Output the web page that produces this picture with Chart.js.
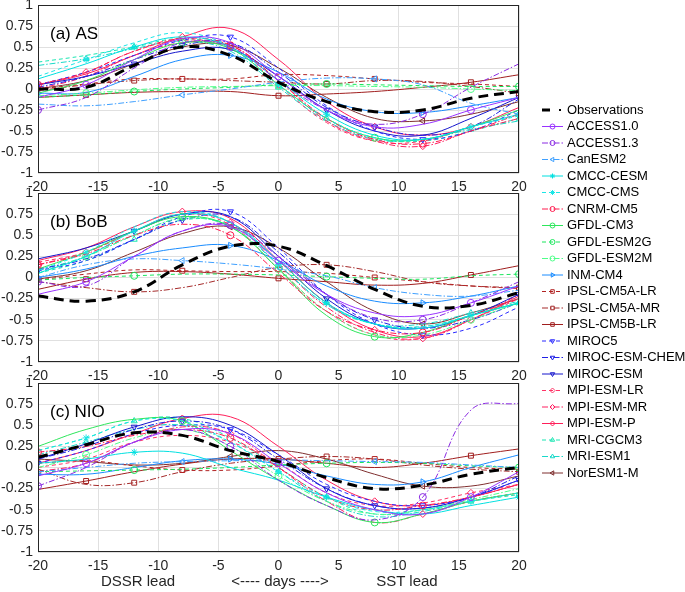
<!DOCTYPE html>
<html>
<head>
<meta charset="utf-8">
<script src="https://cdn.jsdelivr.net/npm/chart.js@4.4.1/dist/chart.umd.min.js"></script>
<style>
  body { margin:0; background:#fff; width:685px; height:592px; position:relative; overflow:hidden;
         font-family:"Liberation Sans", Arial, sans-serif; }
  canvas { position:absolute; }
  .lab { position:absolute; top:572px; font-size:15px; color:#262626; transform:translateX(-50%); white-space:nowrap; }
</style>
</head>
<body>
<canvas id="pa" style="left:0;top:0" width="530" height="195"></canvas>
<canvas id="pb" style="left:0;top:188px" width="530" height="196"></canvas>
<canvas id="pc" style="left:0;top:378px" width="530" height="196"></canvas>
<canvas id="lg" style="left:530px;top:0" width="155" height="592"></canvas>
<div class="lab" style="left:138px">DSSR lead</div>
<div class="lab" style="left:280px">&lt;---- days ----&gt;</div>
<div class="lab" style="left:407px">SST lead</div>
<script>
const lags = [-20, -16, -12, -8, -4, 0, 4, 8, 12, 16, 20];
const xTicks = [-20, -15, -10, -5, 0, 5, 10, 15, 20];

const models = ['ACCESS1.0','ACCESS1.3','CanESM2','CMCC-CESM','CMCC-CMS','CNRM-CM5','GFDL-CM3',
  'GFDL-ESM2G','GFDL-ESM2M','INM-CM4','IPSL-CM5A-LR','IPSL-CM5A-MR','IPSL-CM5B-LR','MIROC5',
  'MIROC-ESM-CHEM','MIROC-ESM','MPI-ESM-LR','MPI-ESM-MR','MPI-ESM-P','MRI-CGCM3','MRI-ESM1','NorESM1-M'];

// (a) AS
const asObs = [0.0, 0.02, 0.28, 0.5, 0.4, 0.08, -0.15, -0.27, -0.25, -0.11, -0.03];
const asModels = [
  [-0.1, 0.05, 0.35, 0.6, 0.55, 0.15, -0.25, -0.45, -0.42, -0.25, -0.1],
  [-0.25, -0.1, 0.25, 0.55, 0.5, 0.1, -0.25, -0.42, -0.3, 0.02, 0.3],
  [-0.18, -0.2, -0.15, -0.07, 0.0, 0.08, 0.13, 0.12, 0.05, -0.17, -0.3],
  [0.12, 0.3, 0.5, 0.62, 0.5, 0.1, -0.3, -0.55, -0.6, -0.45, -0.3],
  [0.15, 0.35, 0.55, 0.67, 0.5, 0.05, -0.35, -0.58, -0.6, -0.45, -0.32],
  [0.05, 0.2, 0.45, 0.6, 0.52, 0.1, -0.35, -0.6, -0.65, -0.5, -0.3],
  [-0.05, 0.1, 0.35, 0.55, 0.48, 0.05, -0.35, -0.58, -0.6, -0.45, -0.25],
  [-0.1, -0.07, -0.03, 0.0, 0.02, 0.05, 0.06, 0.05, 0.04, 0.03, 0.03],
  [-0.08, -0.05, -0.01, 0.02, 0.03, 0.04, 0.04, 0.03, 0.02, 0.0, -0.02],
  [-0.05, -0.04, 0.15, 0.35, 0.4, 0.2, -0.12, -0.27, -0.28, -0.2, -0.1],
  [0.0, 0.06, 0.12, 0.12, 0.12, 0.17, 0.16, 0.12, 0.08, 0.06, 0.03],
  [-0.02, 0.05, 0.1, 0.12, 0.1, 0.08, 0.06, 0.1, 0.09, 0.03, -0.05],
  [-0.1, -0.07, -0.04, -0.03, -0.03, -0.08, -0.06, -0.03, 0.02, 0.08, 0.17],
  [0.05, 0.2, 0.4, 0.58, 0.62, 0.25, -0.2, -0.5, -0.6, -0.5, -0.25],
  [0.02, 0.15, 0.35, 0.52, 0.55, 0.2, -0.22, -0.45, -0.55, -0.45, -0.12],
  [0.05, 0.15, 0.3, 0.45, 0.47, 0.15, -0.25, -0.5, -0.55, -0.35, -0.1],
  [0.05, 0.2, 0.45, 0.58, 0.5, 0.05, -0.4, -0.62, -0.62, -0.45, -0.3],
  [0.0, 0.15, 0.4, 0.55, 0.52, 0.1, -0.38, -0.62, -0.68, -0.5, -0.35],
  [0.05, 0.18, 0.4, 0.62, 0.72, 0.35, -0.15, -0.45, -0.55, -0.45, -0.22],
  [0.32, 0.4, 0.5, 0.6, 0.48, 0.05, -0.35, -0.58, -0.62, -0.5, -0.35],
  [0.28, 0.36, 0.48, 0.57, 0.45, 0.02, -0.38, -0.6, -0.6, -0.48, -0.38],
  [0.0, 0.1, 0.3, 0.5, 0.52, 0.25, -0.1, -0.35, -0.38, -0.3, -0.15]
];

// (b) BoB
const bobObs = [-0.22, -0.28, -0.17, 0.15, 0.37, 0.37, 0.14, -0.14, -0.34, -0.33, -0.18];
const bobModels = [
  [-0.2, -0.05, 0.25, 0.55, 0.6, 0.2, -0.2, -0.42, -0.45, -0.3, -0.1],
  [-0.05, -0.1, 0.25, 0.55, 0.62, 0.25, -0.2, -0.48, -0.5, -0.3, -0.05],
  [0.0, 0.15, 0.22, 0.2, 0.16, 0.1, 0.02, -0.12, -0.2, -0.22, -0.15],
  [0.05, 0.25, 0.55, 0.75, 0.65, 0.2, -0.3, -0.55, -0.6, -0.45, -0.3],
  [0.08, 0.3, 0.6, 0.78, 0.65, 0.15, -0.32, -0.55, -0.58, -0.45, -0.3],
  [0.15, 0.28, 0.5, 0.63, 0.5, 0.05, -0.4, -0.62, -0.65, -0.45, -0.25],
  [0.1, 0.3, 0.55, 0.72, 0.6, 0.1, -0.45, -0.7, -0.65, -0.45, -0.3],
  [-0.03, 0.0, 0.02, 0.04, 0.04, 0.03, 0.01, -0.01, -0.02, 0.02, 0.04],
  [0.05, 0.25, 0.5, 0.7, 0.6, 0.1, -0.4, -0.68, -0.68, -0.5, -0.3],
  [0.0, 0.1, 0.25, 0.35, 0.38, 0.2, -0.1, -0.28, -0.3, -0.22, -0.1],
  [-0.03, 0.04, 0.09, 0.08, 0.07, 0.07, 0.05, 0.0, -0.05, -0.1, -0.13],
  [-0.05, -0.12, -0.17, -0.12, 0.0, 0.12, 0.15, 0.07, -0.05, -0.1, -0.12],
  [-0.14, -0.02, 0.06, 0.07, 0.04, -0.01, -0.05, -0.09, -0.07, 0.03, 0.14],
  [0.08, 0.2, 0.45, 0.72, 0.78, 0.35, -0.2, -0.55, -0.68, -0.6, -0.35],
  [0.1, 0.22, 0.45, 0.68, 0.72, 0.3, -0.2, -0.5, -0.6, -0.5, -0.3],
  [0.22, 0.35, 0.55, 0.75, 0.72, 0.25, -0.25, -0.55, -0.6, -0.45, -0.2],
  [0.18, 0.3, 0.55, 0.75, 0.62, 0.1, -0.4, -0.68, -0.72, -0.5, -0.25],
  [0.15, 0.3, 0.55, 0.75, 0.65, 0.15, -0.35, -0.65, -0.72, -0.5, -0.2],
  [0.2, 0.35, 0.6, 0.78, 0.7, 0.2, -0.3, -0.62, -0.7, -0.5, -0.22],
  [0.05, 0.2, 0.45, 0.68, 0.62, 0.2, -0.3, -0.55, -0.58, -0.45, -0.3],
  [0.08, 0.25, 0.5, 0.7, 0.6, 0.15, -0.32, -0.55, -0.55, -0.42, -0.28],
  [-0.02, 0.08, 0.3, 0.52, 0.6, 0.35, -0.05, -0.4, -0.55, -0.42, -0.25]
];

// (c) NIO
const nioObs = [0.12, 0.27, 0.41, 0.38, 0.2, 0.07, -0.12, -0.25, -0.21, -0.08, 0.0];
const nioModels = [
  [-0.1, 0.05, 0.3, 0.45, 0.4, 0.05, -0.3, -0.5, -0.55, -0.35, -0.05],
  [-0.22, 0.0, 0.3, 0.45, 0.25, -0.15, -0.45, -0.62, -0.35, 0.68, 0.76],
  [-0.05, 0.0, 0.05, 0.07, 0.08, 0.09, 0.08, 0.07, 0.06, 0.03, 0.0],
  [0.05, 0.1, 0.18, 0.17, 0.0, -0.15, -0.35, -0.5, -0.55, -0.45, -0.35],
  [0.2, 0.35, 0.55, 0.55, 0.3, -0.05, -0.35, -0.52, -0.5, -0.4, -0.3],
  [0.18, 0.25, 0.38, 0.45, 0.35, 0.0, -0.35, -0.5, -0.45, -0.35, -0.2],
  [0.25, 0.45, 0.57, 0.55, 0.2, -0.15, -0.45, -0.65, -0.55, -0.4, -0.3],
  [-0.05, -0.04, -0.03, -0.02, 0.0, 0.03, 0.05, 0.06, 0.05, 0.02, 0.0],
  [0.0, 0.15, 0.35, 0.45, 0.25, -0.1, -0.4, -0.55, -0.5, -0.38, -0.25],
  [-0.08, -0.08, 0.0, 0.08, 0.1, 0.04, -0.1, -0.2, -0.17, 0.0, 0.15],
  [0.05, 0.08, 0.02, -0.03, -0.03, 0.02, 0.08, 0.1, 0.05, 0.0, -0.02],
  [-0.02, -0.2, -0.18, -0.05, 0.05, 0.1, 0.13, 0.1, 0.03, -0.02, -0.05],
  [-0.26, -0.16, -0.05, 0.04, 0.1, 0.1, 0.05, 0.0, 0.05, 0.14, 0.22],
  [0.05, 0.2, 0.4, 0.5, 0.45, 0.15, -0.2, -0.4, -0.45, -0.35, -0.15],
  [0.1, 0.25, 0.45, 0.55, 0.45, 0.1, -0.25, -0.45, -0.48, -0.35, -0.1],
  [0.1, 0.28, 0.48, 0.6, 0.5, 0.15, -0.25, -0.45, -0.48, -0.35, -0.15],
  [0.0, 0.1, 0.3, 0.38, 0.3, 0.05, -0.3, -0.45, -0.42, -0.3, -0.2],
  [-0.05, 0.05, 0.3, 0.48, 0.4, 0.0, -0.4, -0.65, -0.55, -0.4, -0.3],
  [0.05, 0.2, 0.4, 0.58, 0.6, 0.25, -0.15, -0.4, -0.45, -0.35, -0.2],
  [0.2, 0.35, 0.55, 0.58, 0.35, 0.0, -0.35, -0.55, -0.5, -0.4, -0.32],
  [0.15, 0.3, 0.45, 0.5, 0.3, -0.05, -0.4, -0.58, -0.52, -0.4, -0.3],
  [0.1, 0.07, 0.03, 0.05, 0.13, 0.2, 0.1, -0.08, -0.22, -0.22, -0.1]
];

// line styles, same order as models
const modelColors = ['#9933ff','#8a2be2','#3fa0ff','#00e0e0','#1ae6e6','#ff1a4d','#2ee65c',
  '#1ae65c','#4dff88','#1a8cff','#b22222','#a52a2a','#a01e1e','#2a2aff','#2020e6','#1515cc',
  '#ff3366','#ff2060','#ff1f5a','#1ae6b3','#1ad9c9','#7f2f2f'];
const SOLID = [], DASH = [4, 3], DASHDOT = [6, 2, 1.5, 2], DOT = [1.5, 2];
const modelDash = [SOLID, DASHDOT, DASHDOT, SOLID, DASH, DASHDOT, SOLID, DASH, DASHDOT, SOLID,
  DASH, DASHDOT, SOLID, DASH, DASHDOT, SOLID, DASH, DASHDOT, SOLID, DASH, DASHDOT, SOLID];
// [pointStyle, rotation]
const modelMarker = [['circle',0],['circle',0],['triangle',270],['star',0],['star',0],['circle',0],
  ['circle',0],['circle',0],['circle',0],['triangle',90],['rect',0],['rect',0],['rect',0],
  ['triangle',180],['triangle',180],['triangle',180],['rectRot',0],['rectRot',0],['rectRot',0],
  ['triangle',0],['triangle',0],['triangle',270]];

const TXT = '#262626';
const FONT = '"Liberation Sans", Arial, sans-serif';
Chart.defaults.font.family = FONT;

const boxPlugin = {
  id: 'box',
  afterDraw(chart, args, opts) {
    const a = chart.chartArea, ctx = chart.ctx;
    ctx.save();
    ctx.strokeStyle = TXT;
    ctx.lineWidth = 1;
    ctx.setLineDash([]);
    ctx.strokeRect(a.left + 0.5, a.top + 0.5, a.right - a.left - 1, a.bottom - a.top - 1);
    ctx.fillStyle = '#000';
    ctx.font = '17px ' + FONT;
    ctx.textBaseline = 'middle';
    ctx.fillText(opts.title, a.left + 12, a.top + 29);
    ctx.restore();
  }
};

function makePanel(id, title, obs, series) {
  const datasets = [{
    label: 'Observations',
    data: lags.map((x, i) => ({ x: x, y: obs[i] })),
    borderColor: '#000', borderWidth: 3, borderDash: [10, 6],
    pointRadius: 0, tension: 0.4
  }];
  series.forEach((vals, m) => {
    const off = m % 4;
    datasets.push({
      label: models[m],
      data: lags.map((x, i) => ({ x: x, y: vals[i] })),
      borderColor: modelColors[m],
      borderWidth: 1,
      borderDash: modelDash[m],
      tension: 0.4,
      pointStyle: modelMarker[m][0],
      pointRotation: modelMarker[m][1],
      pointRadius: lags.map((x, i) => ((i + off) % 4 === 1 ? 3.5 : 0)),
      pointBorderColor: modelColors[m],
      pointBackgroundColor: 'rgba(255,255,255,0)',
      pointBorderWidth: 1
    });
  });

  new Chart(document.getElementById(id), {
    type: 'line',
    data: { datasets: datasets },
    plugins: [boxPlugin],
    options: {
      responsive: false,
      devicePixelRatio: 1,
      animation: false,
      layout: { padding: { left: 0, right: 11, top: 5, bottom: 0 } },
      plugins: { legend: { display: false }, tooltip: { enabled: false }, box: { title: title } },
      scales: {
        x: {
          type: 'linear', min: -20, max: 20,
          afterBuildTicks: s => { s.ticks = xTicks.map(v => ({ value: v })); },
          ticks: { color: TXT, font: { size: 14 }, padding: 6, maxRotation: 0, autoSkip: false,
                   callback: v => String(v) },
          grid: { color: '#e0e0e0', drawTicks: false },
          border: { display: false },
          afterFit: s => { s.height = 22; s.paddingLeft = 0; s.paddingRight = 0; }
        },
        y: {
          min: -1, max: 1,
          ticks: { stepSize: 0.25, color: TXT, font: { size: 14 }, padding: 5, callback: v => String(v) },
          grid: { color: '#e0e0e0', drawTicks: false },
          border: { display: false },
          afterFit: s => { s.width = 38; s.paddingTop = 0; s.paddingBottom = 0; }
        }
      }
    }
  });
}

makePanel('pa', '(a) AS', asObs, asModels);
makePanel('pb', '(b) BoB', bobObs, bobModels);
makePanel('pc', '(c) NIO', nioObs, nioModels);

// legend, drawn by hand with the same styles
(function drawLegend() {
  const ctx = document.getElementById('lg').getContext('2d');
  const x0 = 12, x1 = 33, tx = 37;
  ctx.font = '13px ' + FONT;
  ctx.textBaseline = 'middle';
  // observations: thick dash plus dot
  let y = 110;
  ctx.strokeStyle = '#000'; ctx.lineWidth = 3;
  ctx.beginPath(); ctx.moveTo(x0, y); ctx.lineTo(x0 + 8, y); ctx.stroke();
  ctx.fillStyle = '#000';
  ctx.fillRect(x0 + 17, y - 1, 2, 2);
  ctx.fillText('Observations', tx, y);
  models.forEach((name, m) => {
    y = 110 + (m + 1) * 16.5;
    ctx.save();
    ctx.strokeStyle = modelColors[m]; ctx.lineWidth = 1;
    ctx.setLineDash(modelDash[m]);
    ctx.beginPath(); ctx.moveTo(x0, y); ctx.lineTo(x1, y); ctx.stroke();
    ctx.setLineDash([]);
    ctx.fillStyle = 'rgba(255,255,255,0)';
    Chart.helpers.drawPoint(ctx, { pointStyle: modelMarker[m][0], rotation: modelMarker[m][1],
      radius: 2.5, borderWidth: 1 }, (x0 + x1) / 2, y);
    ctx.restore();
    ctx.fillStyle = '#000';
    ctx.fillText(name, tx, y);
  });
})();
</script>
</body>
</html>
